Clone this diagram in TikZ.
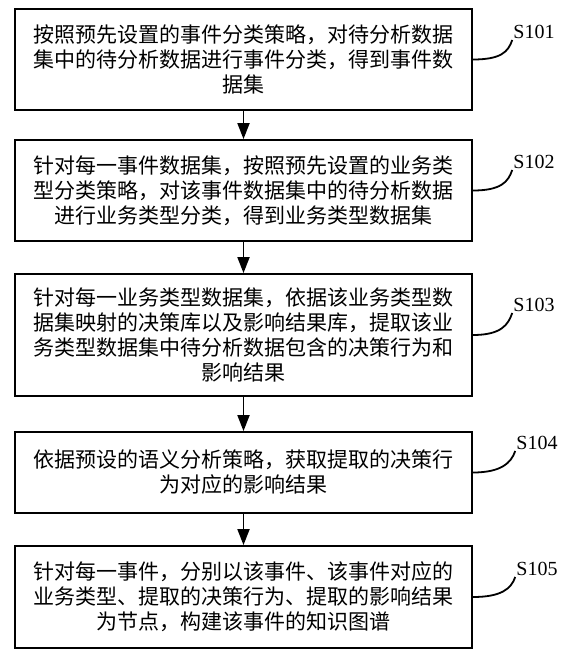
\documentclass[tikz,border=0pt]{standalone}
\usepackage{fontspec}
\setmainfont{Liberation Serif}
\newfontfamily\cjkfont{Noto Sans CJK SC}
\usetikzlibrary{arrows.meta}

\begin{document}
\begin{tikzpicture}[x=1pt,y=-1pt,
	stepbox/.style={draw,line width=1.8pt,minimum width=457pt,inner sep=0pt,align=center,
		font=\cjkfont\fontsize{21pt}{25pt}\selectfont},
	steplabel/.style={inner sep=1pt,font=\fontsize{20pt}{24pt}\selectfont},
	flow/.style={line width=1.8pt,-{Triangle[width=12pt,length=16pt]}},
	lead/.style={line width=1.8pt}]

% parameters %{{{2

	\def\cx{243.5}

% frame %{{{2

	\useasboundingbox (0,0) rectangle (582,664);

% boxes %{{{2

	\node[stepbox,minimum height=101pt] (B1) at (\cx,59.5)
		{按照预先设置的事件分类策略，对待分析数据\\集中的待分析数据进行事件分类，得到事件数\\据集};
	\node[stepbox,minimum height=101pt] (B2) at (\cx,190.5)
		{针对每一事件数据集，按照预先设置的业务类\\型分类策略，对该事件数据集中的待分析数据\\进行业务类型分类，得到业务类型数据集};
	\node[stepbox,minimum height=122pt] (B3) at (\cx,335)
		{针对每一业务类型数据集，依据该业务类型数\\据集映射的决策库以及影响结果库，提取该业\\务类型数据集中待分析数据包含的决策行为和\\影响结果};
	\node[stepbox,minimum height=81pt] (B4) at (\cx,472.5)
		{依据预设的语义分析策略，获取提取的决策行\\为对应的影响结果};
	\node[stepbox,minimum height=102pt] (B5) at (\cx,597)
		{针对每一事件，分别以该事件、该事件对应的\\业务类型、提取的决策行为、提取的影响结果\\为节点，构建该事件的知识图谱};

% arrows %{{{2

	\foreach \i/\j in {1/2,2/3,3/4,4/5} { \draw[flow] (B\i.south) -- (B\j.north); }

% step labels %{{{2

	\node[steplabel] (L1) at (534,32) {S101};
	\node[steplabel] (L2) at (534,162) {S102};
	\node[steplabel] (L3) at (534,305) {S103};
	\node[steplabel] (L4) at (537,443) {S104};
	\node[steplabel] (L5) at (537,569) {S105};

	\foreach \i in {1,...,5} {
		\draw[lead] (B\i.east) .. controls +(28,0) and +(-4,12) .. (L\i.south west);
	}

% closing %{{{2

\end{tikzpicture}
\end{document}
